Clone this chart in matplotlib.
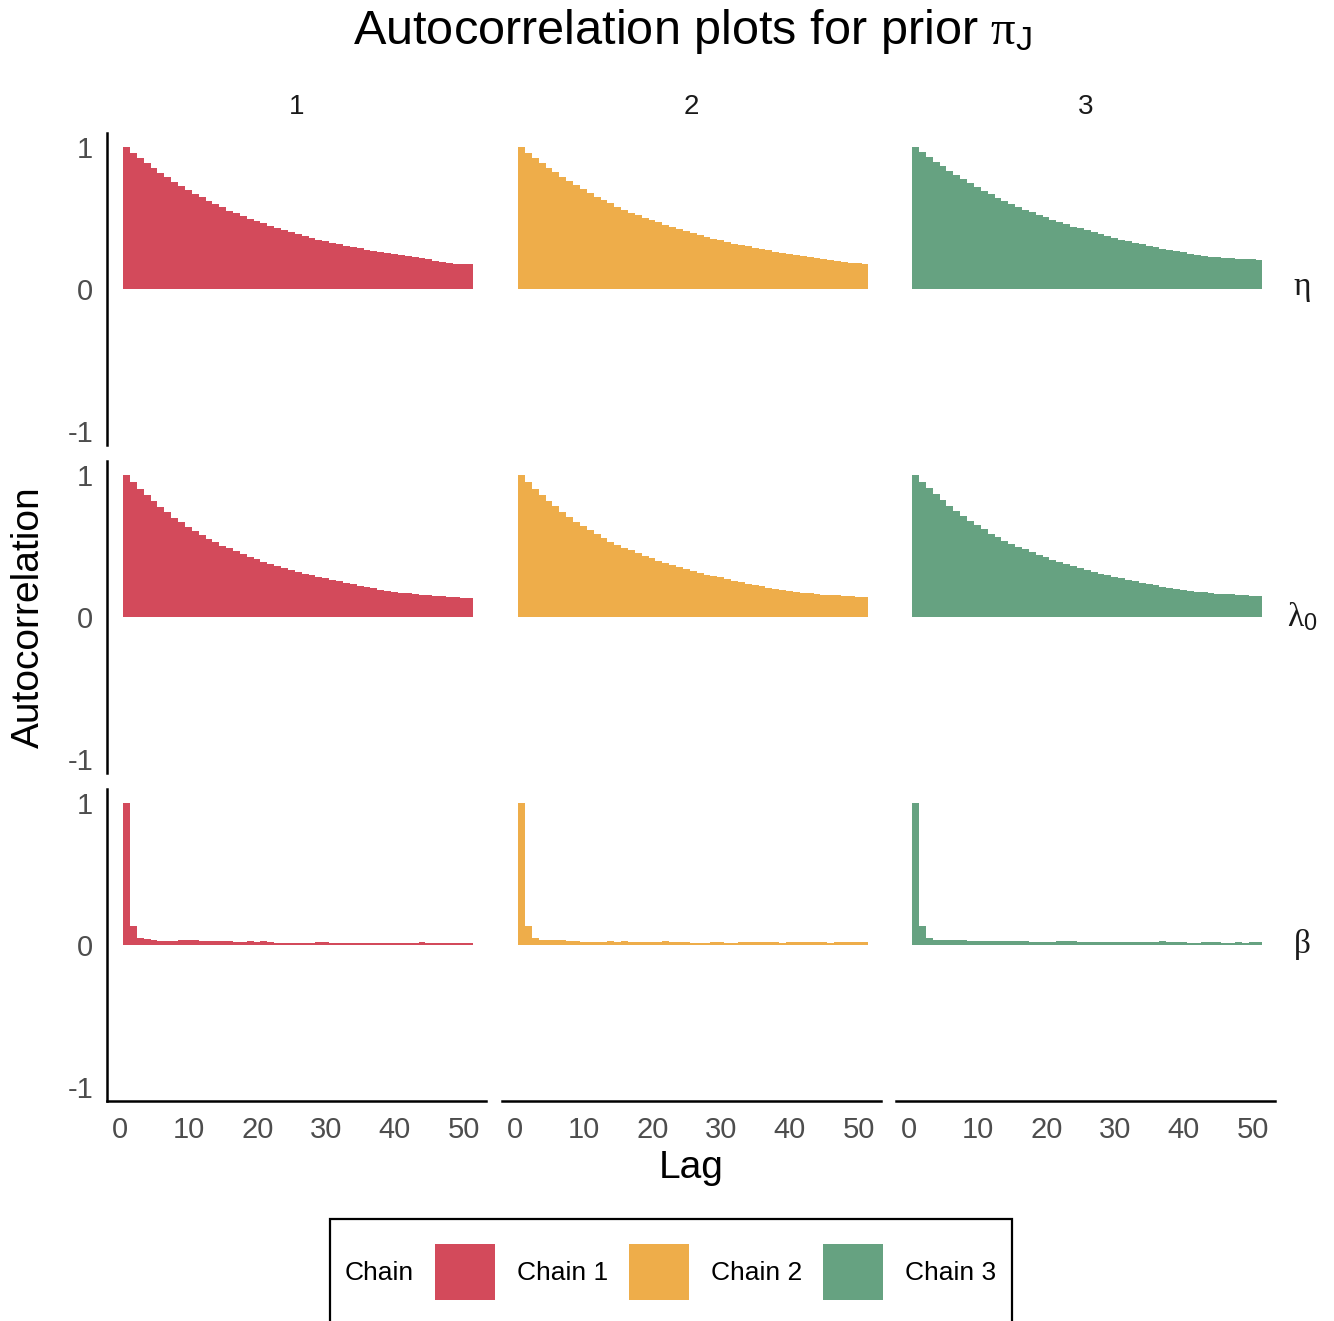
import numpy as np
import matplotlib
matplotlib.use("Agg")
import matplotlib.pyplot as plt
from matplotlib.patches import Rectangle

plt.rcParams["font.family"] = ["Liberation Sans", "DejaVu Sans"]
plt.rcParams["mathtext.fontset"] = "custom"
plt.rcParams["mathtext.rm"] = "Liberation Serif"
plt.rcParams["mathtext.it"] = "Liberation Serif"
plt.rcParams["mathtext.sf"] = "Liberation Sans"

# ---- data -------------------------------------------------------------
lags = np.arange(0, 51)
chains = ["Chain 1", "Chain 2", "Chain 3"]
chain_colors = ["#D34A5B", "#EEAD4A", "#66A281"]
params = [r"$\eta$", r"$\lambda_{\mathsf{0}}$", r"$\beta$"]
x_ticks = [0, 10, 20, 30, 40, 50]
y_ticks = [-1, 0, 1]

eta_c1 = [1.000, 0.961, 0.924, 0.885, 0.851, 0.819, 0.787, 0.757, 0.727, 0.700,
          0.672, 0.647, 0.622, 0.599, 0.576, 0.553, 0.533, 0.515, 0.497, 0.480,
          0.463, 0.447, 0.432, 0.416, 0.400, 0.387, 0.374, 0.360, 0.347, 0.336,
          0.326, 0.315, 0.305, 0.295, 0.286, 0.276, 0.268, 0.259, 0.252, 0.246,
          0.240, 0.233, 0.225, 0.216, 0.209, 0.200, 0.193, 0.186, 0.179, 0.174, 0.174]
eta_c2 = [1.000, 0.962, 0.926, 0.889, 0.855, 0.822, 0.790, 0.760, 0.731, 0.704,
          0.677, 0.652, 0.627, 0.604, 0.581, 0.559, 0.539, 0.521, 0.503, 0.486,
          0.469, 0.453, 0.438, 0.422, 0.407, 0.393, 0.380, 0.366, 0.353, 0.342,
          0.331, 0.320, 0.310, 0.300, 0.291, 0.281, 0.273, 0.264, 0.257, 0.250,
          0.243, 0.236, 0.229, 0.221, 0.214, 0.206, 0.199, 0.192, 0.186, 0.181, 0.178]
eta_c3 = [1.000, 0.963, 0.931, 0.897, 0.865, 0.835, 0.805, 0.775, 0.748, 0.720,
          0.693, 0.667, 0.644, 0.622, 0.601, 0.580, 0.560, 0.541, 0.523, 0.505,
          0.489, 0.472, 0.456, 0.440, 0.427, 0.413, 0.399, 0.385, 0.372, 0.360,
          0.349, 0.337, 0.326, 0.314, 0.305, 0.296, 0.284, 0.275, 0.266, 0.259,
          0.250, 0.243, 0.236, 0.229, 0.225, 0.220, 0.216, 0.213, 0.211, 0.209, 0.206]

lam_c1 = [1.000, 0.952, 0.903, 0.860, 0.818, 0.777, 0.738, 0.701, 0.667, 0.637,
          0.607, 0.577, 0.552, 0.526, 0.503, 0.485, 0.464, 0.444, 0.425, 0.409,
          0.391, 0.375, 0.361, 0.347, 0.333, 0.320, 0.306, 0.294, 0.283, 0.274,
          0.262, 0.251, 0.241, 0.230, 0.221, 0.211, 0.202, 0.193, 0.186, 0.179,
          0.172, 0.166, 0.161, 0.156, 0.152, 0.149, 0.145, 0.140, 0.138, 0.136, 0.131]
lam_c2 = [1.000, 0.953, 0.905, 0.862, 0.821, 0.780, 0.741, 0.705, 0.671, 0.641,
          0.611, 0.582, 0.557, 0.531, 0.508, 0.490, 0.469, 0.449, 0.430, 0.414,
          0.396, 0.380, 0.366, 0.352, 0.338, 0.325, 0.311, 0.299, 0.288, 0.279,
          0.267, 0.256, 0.246, 0.236, 0.227, 0.217, 0.208, 0.199, 0.192, 0.185,
          0.178, 0.172, 0.167, 0.162, 0.158, 0.155, 0.152, 0.148, 0.146, 0.144, 0.142]
lam_c3 = [1.000, 0.954, 0.907, 0.865, 0.824, 0.784, 0.746, 0.710, 0.676, 0.646,
          0.617, 0.588, 0.563, 0.538, 0.515, 0.496, 0.476, 0.456, 0.437, 0.421,
          0.403, 0.387, 0.373, 0.359, 0.345, 0.332, 0.318, 0.306, 0.295, 0.285,
          0.274, 0.263, 0.253, 0.243, 0.234, 0.224, 0.215, 0.206, 0.199, 0.192,
          0.185, 0.179, 0.174, 0.169, 0.165, 0.162, 0.159, 0.156, 0.153, 0.151, 0.149]

beta_c1 = [1.000, 0.136, 0.050, 0.039, 0.035, 0.025, 0.028, 0.030, 0.032, 0.032,
           0.032, 0.028, 0.025, 0.025, 0.028, 0.025, 0.018, 0.020, 0.025, 0.020,
           0.025, 0.018, 0.016, 0.016, 0.016, 0.016, 0.016, 0.016, 0.020, 0.018,
           0.016, 0.016, 0.016, 0.016, 0.016, 0.012, 0.016, 0.016, 0.016, 0.016,
           0.016, 0.014, 0.016, 0.018, 0.016, 0.016, 0.012, 0.014, 0.016, 0.016, 0.012]
beta_c2 = [1.000, 0.131, 0.046, 0.037, 0.037, 0.035, 0.037, 0.030, 0.028, 0.018,
           0.018, 0.021, 0.023, 0.028, 0.023, 0.028, 0.018, 0.021, 0.023, 0.023,
           0.023, 0.025, 0.023, 0.021, 0.018, 0.014, 0.014, 0.016, 0.021, 0.018,
           0.016, 0.016, 0.021, 0.023, 0.021, 0.023, 0.018, 0.018, 0.016, 0.021,
           0.018, 0.018, 0.021, 0.018, 0.018, 0.016, 0.018, 0.018, 0.021, 0.018, 0.018]
beta_c3 = [1.000, 0.131, 0.046, 0.037, 0.032, 0.037, 0.035, 0.032, 0.030, 0.028,
           0.028, 0.025, 0.028, 0.028, 0.030, 0.030, 0.028, 0.023, 0.018, 0.023,
           0.023, 0.025, 0.030, 0.028, 0.023, 0.018, 0.018, 0.018, 0.021, 0.023,
           0.021, 0.018, 0.018, 0.018, 0.021, 0.023, 0.025, 0.021, 0.018, 0.018,
           0.016, 0.014, 0.018, 0.018, 0.018, 0.016, 0.016, 0.018, 0.016, 0.018, 0.021]

acf = [[eta_c1, eta_c2, eta_c3],
       [lam_c1, lam_c2, lam_c3],
       [beta_c1, beta_c2, beta_c3]]

# ---- layout (pixel geometry of the facet grid) -------------------------
W, H = 1334, 1321
fig = plt.figure(figsize=(W / 100, H / 100), dpi=100)
col_left = [107, 502, 896]
row_top = [133, 461, 789]
pw, ph = 379, 312


def fig_box(left, top, width, height):
    return [left / W, 1 - (top + height) / H, width / W, height / H]


tick_color = "#4D4D4D"
edges = np.append(lags, lags[-1] + 1) + 0.45

for r in range(3):
    for c in range(3):
        ax = fig.add_axes(fig_box(col_left[c], row_top[r], pw, ph))
        ax.stairs(acf[r][c], edges, baseline=0, fill=True,
                  color=chain_colors[c], linewidth=0)
        ax.set_xlim(-1.89, 53.27)
        ax.set_ylim(-1.1, 1.1)
        for s in ax.spines.values():
            s.set_visible(False)
        ax.tick_params(length=0, labelsize=21, colors=tick_color)
        ax.tick_params(axis="y", pad=10)
        ax.tick_params(axis="x", pad=11)
        ax.set_xticks(x_ticks)
        ax.set_yticks(y_ticks)
        ax.set_yticklabels([str(v) for v in y_ticks])
        if c == 0:
            ax.spines["left"].set_visible(True)
            ax.spines["left"].set_linewidth(1.8)
        else:
            ax.set_yticklabels([])
        if r == 2:
            ax.spines["bottom"].set_visible(True)
            ax.spines["bottom"].set_linewidth(1.8)
        else:
            ax.set_xticklabels([])
        ax.patch.set_alpha(0)
        if r == 0:
            ax.text(0.5, 1 + 26 / ph, str(c + 1), transform=ax.transAxes,
                    ha="center", va="center", fontsize=20, color="#1A1A1A")
        if c == 2:
            ax.text(1 + 27 / pw, 0.5, params[r], transform=ax.transAxes,
                    ha="center", va="center", fontsize=24, color="#1A1A1A")

# titles
fig.text(692 / W, 1 - 31 / H, r"Autocorrelation plots for prior $\pi_{\mathsf{J}}$",
         ha="center", va="center", fontsize=35)
fig.text(691 / W, 1 - 1168 / H, "Lag", ha="center", va="center", fontsize=28)
fig.text(29 / W, 1 - 617 / H, "Autocorrelation", ha="center", va="center",
         fontsize=28, rotation=90)

# legend
fig.patches.append(Rectangle((330 / W, 1 - 1340 / H), (1012 - 330) / W, (1340 - 1219) / H,
                             transform=fig.transFigure, fill=False, lw=1.6,
                             edgecolor="black"))
fig.text(345 / W, 1 - 1273 / H, "Chain", ha="left", va="center", fontsize=19)
key_left = [435, 629, 823]
for kx, name, col in zip(key_left, chains, chain_colors):
    fig.patches.append(Rectangle((kx / W, 1 - 1300 / H), 60 / W, 56 / H,
                                 transform=fig.transFigure, facecolor=col,
                                 edgecolor="none"))
    fig.text((kx + 82) / W, 1 - 1273 / H, name, ha="left", va="center", fontsize=19)

fig.savefig("out.png", dpi=100, facecolor="white")
